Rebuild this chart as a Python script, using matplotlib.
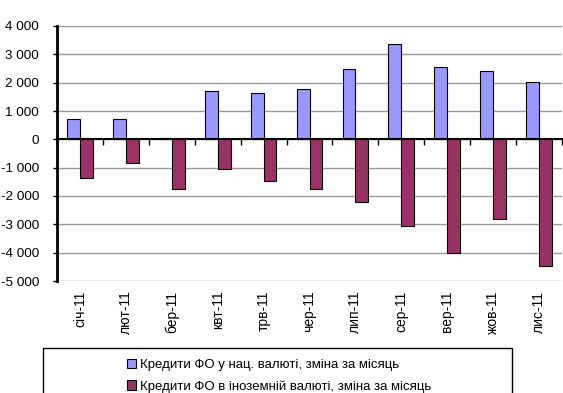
import matplotlib.pyplot as plt
import matplotlib.ticker as mticker
import numpy as np
from matplotlib.patches import Rectangle

plt.rcParams['font.family'] = ['Liberation Sans', 'DejaVu Sans']

misyatsi = ['січ-11', 'лют-11', 'бер-11', 'квт-11', 'трв-11', 'чер-11',
            'лип-11', 'сер-11', 'вер-11', 'жов-11', 'лис-11']
nats_valiuta = [730, 730, 30, 1700, 1650, 1780, 2480, 3360, 2570, 2400, 2030]
inozemna_valiuta = [-1380, -820, -1750, -1060, -1470, -1770, -2210, -3050, -4020, -2820, -4470]

nazva1 = 'Кредити ФО у нац. валюті, зміна за місяць'
nazva2 = 'Кредити ФО в іноземній валюті, зміна за місяць'

fig = plt.figure(figsize=(5.63, 3.93), dpi=100)
ax = fig.add_axes([57/563, 1 - 281/393, 505/563, 255/393])

x = np.arange(len(misyatsi))
w = 0.28
b1 = ax.bar(x - w/2, nats_valiuta, w, color='#9999FF', edgecolor='black', linewidth=0.8, label=nazva1, zorder=3)
b2 = ax.bar(x + w/2, inozemna_valiuta, w, color='#993366', edgecolor='black', linewidth=0.8, label=nazva2, zorder=3)

ax.set_xlim(-0.5, len(misyatsi) - 0.5)
ax.set_ylim(-5000, 4000)
ax.yaxis.set_major_locator(mticker.MultipleLocator(1000))
ax.yaxis.set_major_formatter(mticker.FuncFormatter(lambda v, p: '{:,.0f}'.format(v).replace(',', ' ')))
ax.grid(axis='y', color='#999999', linewidth=1, zorder=0)
ax.tick_params(axis='y', length=3, pad=10, labelsize=9.7, width=1)

for s in ['top', 'right']:
    ax.spines[s].set_visible(False)
ax.spines['left'].set_linewidth(2)
# вісь категорій проходить через нуль
ax.spines['bottom'].set_position(('data', 0))
ax.spines['bottom'].set_linewidth(1.5)
ax.spines['bottom'].set_zorder(4)
ax.set_xticks(np.arange(len(misyatsi) + 1) - 0.5)
ax.tick_params(axis='x', length=4, width=1, labelbottom=False, direction='out')

# підписи місяців унизу
sec = ax.secondary_xaxis('bottom')
sec.set_xticks(x)
sec.set_xticklabels(misyatsi, rotation=90, fontsize=10)
sec.tick_params(length=0, pad=7)
sec.spines['bottom'].set_visible(False)

fig.patches.append(Rectangle((43/563, -0.05), 469/563, 0.05 + 1 - 348/393,
                             transform=fig.transFigure, fill=False, edgecolor='black', linewidth=1))
fig.legend(handles=[b1, b2], loc='upper center', bbox_to_anchor=(279/563, 1 - 352/393),
           frameon=False, fontsize=9.5, handlelength=0.7, handleheight=0.7,
           handletextpad=0.3, labelspacing=0.7, borderpad=0)

fig.savefig('out.png', dpi=100)
